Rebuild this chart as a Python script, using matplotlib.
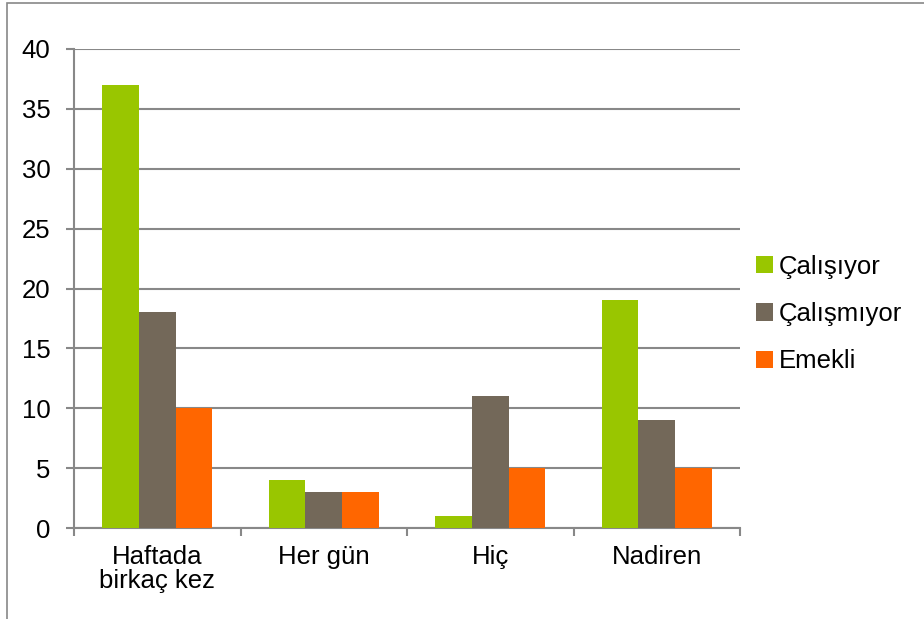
import matplotlib
matplotlib.use("Agg")
import matplotlib.pyplot as plt
from matplotlib.patches import Rectangle
import numpy as np

categories = ["Haftada\nbirkaç kez", "Her gün", "Hiç", "Nadiren"]
series_names = ["Çalışıyor", "Çalışmıyor", "Emekli"]
calisiyor = [37, 4, 1, 19]
calismiyor = [18, 3, 11, 9]
emekli = [10, 3, 5, 5]
colors = ["#99C600", "#736859", "#FF6600"]

plt.rcParams["font.family"] = ["Liberation Sans", "DejaVu Sans"]
FS = 18.5

W, H = 924, 619
fig = plt.figure(figsize=(W / 100, H / 100), dpi=100)
ax = fig.add_axes([74 / W, 1 - 528 / H, (740 - 74) / W, (528 - 49) / H])

# outer chart frame, partly cropped
fig.patches.append(Rectangle((7 / W, -0.1), 1.2, 1 - 3 / H + 0.1, transform=fig.transFigure,
                             fill=False, edgecolor="#888888", linewidth=1.2))

x = np.arange(len(categories))
bw = 0.22
for i, (vals, name) in enumerate(zip([calisiyor, calismiyor, emekli], series_names)):
    ax.bar(x + (i - 1) * bw, vals, bw, color=colors[i], label=name, zorder=3)

ax.set_xlim(-0.5, len(categories) - 0.5)
ax.set_ylim(0, 40)
ax.set_yticks(range(0, 41, 5))
ax.yaxis.grid(True, color="#888888", linewidth=1.5, zorder=0)
ax.set_axisbelow(True)
for s in ["top", "right"]:
    ax.spines[s].set_visible(False)
ax.spines["left"].set_color("#888888")
ax.spines["bottom"].set_color("#888888")
ax.spines["left"].set_linewidth(1.5)
ax.spines["bottom"].set_linewidth(1.5)
ax.tick_params(axis="y", length=6, color="#888888", width=1.5, labelsize=FS, pad=11)
ax.set_xticks(x)
ax.set_xticklabels(categories, fontsize=FS, linespacing=1.0)
ax.set_xticks(np.arange(len(categories) + 1) - 0.5, minor=True)
ax.tick_params(axis="x", which="major", length=0, pad=12)
ax.tick_params(axis="x", which="minor", length=6, color="#888888", width=1.5)

ax.legend(loc="center left", bbox_to_anchor=(756 / W, 1 - 314 / H), bbox_transform=fig.transFigure,
          frameon=False, fontsize=FS, handlelength=0.65, handleheight=0.65, handletextpad=0.25,
          labelspacing=0.9, borderaxespad=0, borderpad=0)

fig.savefig("out.png", dpi=100)
